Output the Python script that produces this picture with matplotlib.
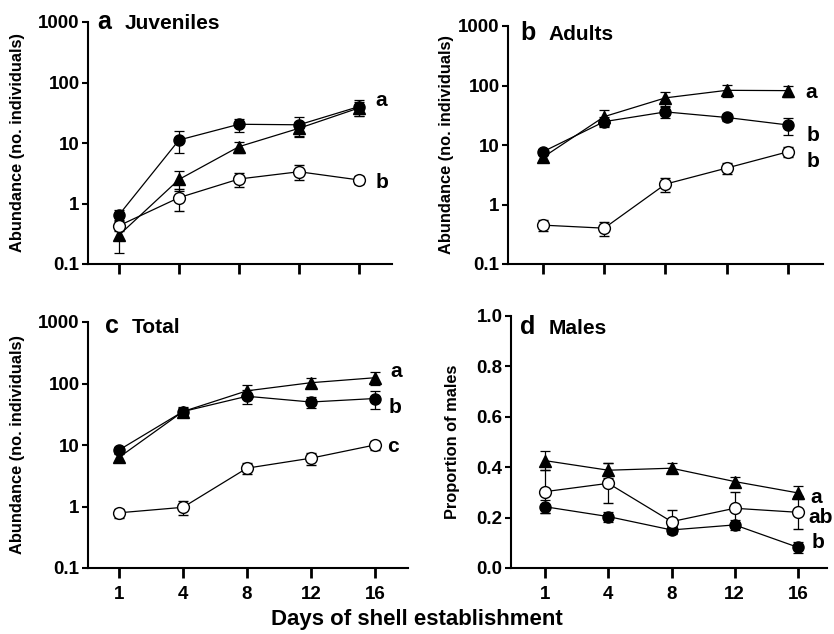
import matplotlib
matplotlib.use("Agg")
import matplotlib.pyplot as plt
import numpy as np

plt.rcParams['font.family'] = ['Liberation Sans', 'DejaVu Sans']
plt.rcParams['font.weight'] = 'bold'

days = ["1", "4", "8", "12", "16"]

# Panel a: Juveniles
juv_filled = [0.65, 11.2, 20.4, 20.0, 40.0]
juv_filled_se = [0.12, 4.3, 5.0, 7.0, 12.0]
juv_tri = [0.30, 2.5, 8.7, 17.5, 38.0]
juv_tri_se = [0.15, 0.9, 1.8, 5.0, 10.0]
juv_open = [0.43, 1.25, 2.54, 3.35, 2.45]
juv_open_se = [0.08, 0.5, 0.7, 0.9, 0.35]

# Panel b: Adults
adu_filled = [7.7, 24.7, 36.0, 29.0, 21.7]
adu_filled_se = [1.0, 5.0, 8.0, 4.0, 7.0]
adu_tri = [6.2, 30.0, 62.0, 83.0, 82.0]
adu_tri_se = [0.8, 9.0, 17.0, 18.0, 17.0]
adu_open = [0.45, 0.40, 2.2, 4.1, 7.7]
adu_open_se = [0.09, 0.11, 0.55, 0.85, 1.5]

# Panel c: Total
tot_filled = [8.3, 35.0, 62.0, 50.0, 57.0]
tot_filled_se = [1.0, 6.0, 15.0, 10.0, 19.0]
tot_tri = [6.3, 35.0, 76.0, 103.0, 124.0]
tot_tri_se = [0.8, 5.0, 18.0, 20.0, 30.0]
tot_open = [0.79, 0.97, 4.2, 6.1, 10.0]
tot_open_se = [0.13, 0.25, 0.85, 1.4, 1.7]

# Panel d: Proportion of males
mal_filled = [0.243, 0.204, 0.151, 0.171, 0.082]
mal_filled_se = [0.025, 0.02, 0.015, 0.02, 0.023]
mal_tri = [0.426, 0.388, 0.396, 0.343, 0.298]
mal_tri_se = [0.037, 0.03, 0.02, 0.02, 0.026]
mal_open = [0.303, 0.336, 0.184, 0.237, 0.221]
mal_open_se = [0.085, 0.08, 0.047, 0.066, 0.065]

W, H = 834, 634
fig = plt.figure(figsize=(W / 100, H / 100), dpi=100)


def make_ax(l, r, t, b):
    return fig.add_axes([l / W, (H - b) / H, (r - l) / W, (b - t) / H])


def style(ax, xl, log=True, show_xlabels=False):
    x = np.arange(len(days))
    ax.set_xlim(*xl)
    ax.set_xticks(x)
    if show_xlabels:
        ax.set_xticklabels(days)
    else:
        ax.set_xticklabels([])
    for s in ['top', 'right']:
        ax.spines[s].set_visible(False)
    for s in ['left', 'bottom']:
        ax.spines[s].set_linewidth(1.5)
    ax.tick_params(axis='x', direction='out', length=7, width=2, labelsize=13.5, pad=6)
    ax.tick_params(axis='y', direction='out', length=4, width=1.5, labelsize=13.5, pad=2)
    if log:
        ax.set_yscale('log')
        ax.set_ylim(0.1, 1000)
        ax.set_yticks([0.1, 1, 10, 100, 1000])
        ax.set_yticklabels(["0.1", "1", "10", "100", "1000"])
        ax.yaxis.set_minor_locator(matplotlib.ticker.NullLocator())
    for lab in ax.get_xticklabels() + ax.get_yticklabels():
        lab.set_fontweight('bold')


def plot_series(ax, y, se, kind):
    x = np.arange(len(days))
    if kind == 'filled':
        kw = dict(marker='o', mfc='black', mec='black', ms=8, zorder=3)
    elif kind == 'tri':
        kw = dict(marker='^', mfc='black', mec='black', ms=8, zorder=3)
    else:
        kw = dict(marker='o', mfc='white', mec='black', mew=1.0, ms=8.5, zorder=4)
    ax.errorbar(x, y, yerr=se, color='black', lw=0.9, elinewidth=0.9,
                capsize=3.5, capthick=0.9, **kw)


def panel(ax, letter, title, data, ylab, ylab_x, title_xy, title_gap, annots):
    for y, se, kind in data:
        plot_series(ax, y, se, kind)
    ax.set_ylabel(ylab, fontsize=11.8, fontweight='bold')
    ax.yaxis.set_label_coords(ylab_x, 0.5)
    ax.text(title_xy[0], title_xy[1], letter, transform=ax.transAxes,
            fontsize=18, fontweight='bold', va='baseline', ha='left')
    ax.text(title_xy[0] + title_gap, title_xy[1], title, transform=ax.transAxes,
            fontsize=15, fontweight='bold', va='baseline', ha='left')
    for (xx, yy, s) in annots:
        ax.text(xx, yy, s, fontsize=15, fontweight='bold', ha='left', va='center',
                clip_on=False)


ax_a = make_ax(88, 392, 22, 264)
style(ax_a, (-0.517, 4.55))
panel(ax_a, 'a', 'Juveniles',
      [(juv_filled, juv_filled_se, 'filled'), (juv_tri, juv_tri_se, 'tri'),
       (juv_open, juv_open_se, 'open')],
      'Abundance (no. individuals)', -0.207, (0.03, 0.97), 0.089,
      [(4.28, 51, 'a'), (4.27, 2.2, 'b')])

ax_b = make_ax(508, 823, 26, 264)
style(ax_b, (-0.57, 4.57))
panel(ax_b, 'b', 'Adults',
      [(adu_filled, adu_filled_se, 'filled'), (adu_tri, adu_tri_se, 'tri'),
       (adu_open, adu_open_se, 'open')],
      'Abundance (no. individuals)', -0.171, (0.038, 0.94), 0.092,
      [(4.28, 75, 'a'), (4.3, 14.7, 'b'), (4.3, 5.2, 'b')])

ax_c = make_ax(88, 408, 322, 568)
style(ax_c, (-0.486, 4.52), show_xlabels=True)
panel(ax_c, 'c', 'Total',
      [(tot_filled, tot_filled_se, 'filled'), (tot_tri, tot_tri_se, 'tri'),
       (tot_open, tot_open_se, 'open')],
      'Abundance (no. individuals)', -0.197, (0.053, 0.955), 0.084,
      [(4.25, 154, 'a'), (4.22, 40, 'b'), (4.2, 9.3, 'c')])

ax_d = make_ax(511, 827, 316, 568)
style(ax_d, (-0.54, 4.46), log=False, show_xlabels=True)
ax_d.set_ylim(0, 1.0)
ax_d.set_yticks([0.0, 0.2, 0.4, 0.6, 0.8, 1.0])
ax_d.set_yticklabels(["0.0", "0.2", "0.4", "0.6", "0.8", "1.0"])
for lab in ax_d.get_yticklabels():
    lab.set_fontweight('bold')
panel(ax_d, 'd', 'Males',
      [(mal_filled, mal_filled_se, 'filled'), (mal_tri, mal_tri_se, 'tri'),
       (mal_open, mal_open_se, 'open')],
      'Proportion of males', -0.161, (0.03, 0.93), 0.089,
      [(4.19, 0.278, 'a'), (4.16, 0.202, 'ab'), (4.22, 0.103, 'b')])

fig.text(417 / W, 1 - 620 / H, 'Days of shell establishment', fontsize=16,
         fontweight='bold', ha='center', va='center')

fig.savefig('out.png', dpi=100)
